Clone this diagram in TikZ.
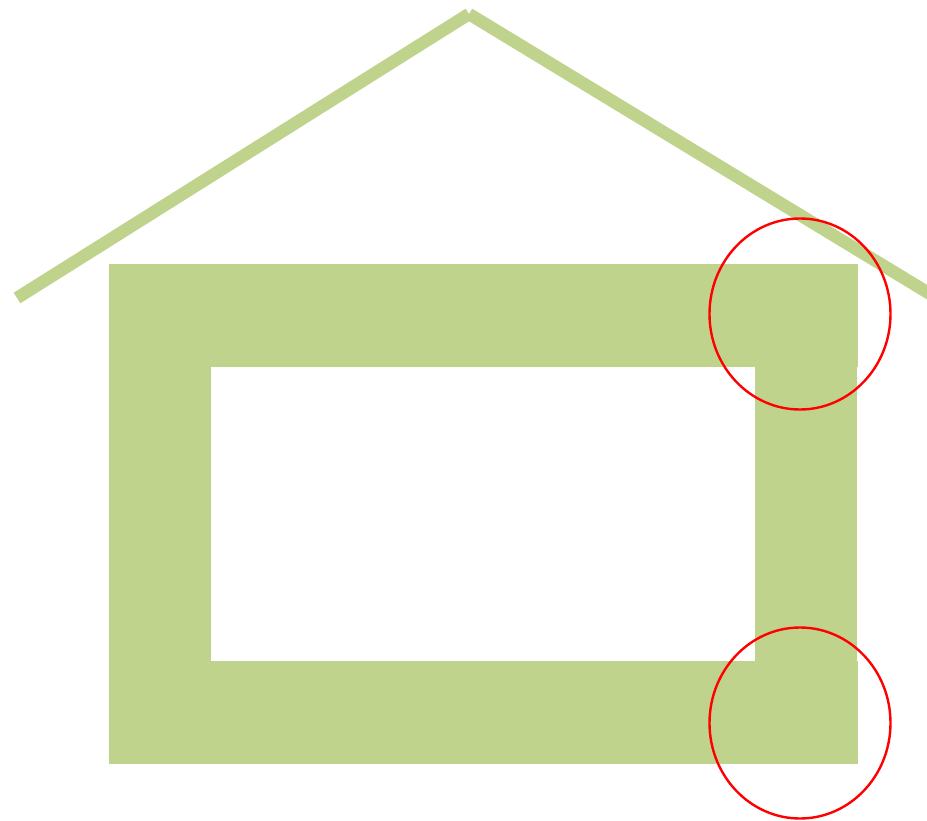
\documentclass[tikz,border=0pt]{standalone}
\begin{document}
\begin{tikzpicture}[x=1pt,y=-1pt,
  wall/.style={fill=housegreen},
  roofline/.style={draw=housegreen,line width=12.5pt,line cap=butt},
  redring/.style={draw=red,line width=2.4pt}]
\definecolor{housegreen}{RGB}{192,211,141}
\path[use as bounding box] (0,0) rectangle (927,821);
\clip (0,0) rectangle (927,821);
% roof
\coordinate (apex) at (469,14);
\coordinate (roofL) at (17,298);
\coordinate (roofR) at (940,300);
\draw[roofline] (roofL) -- (apex);
\draw[roofline] (apex) -- (roofR);
% frame
\fill[wall] (109,264) rectangle (858,367);
\fill[wall] (109,661) rectangle (858,764);
\fill[wall] (109,366) rectangle (211,662);
\fill[wall] (755,366) rectangle (857,662);
% marks
\draw[redring] (800,314) ellipse [x radius=90.5, y radius=95.5];
\draw[redring] (800,723) ellipse [x radius=90.5, y radius=95.5];
\end{tikzpicture}
\end{document}
